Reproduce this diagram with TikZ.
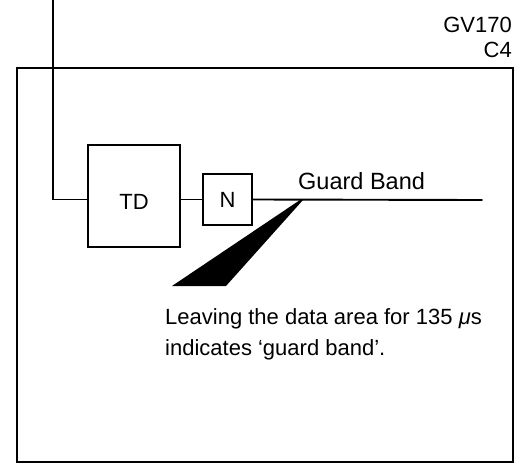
\documentclass[tikz,border=0pt]{standalone}
\usepackage{fontspec}
\setmainfont{Liberation Sans}
\usetikzlibrary{positioning}

\begin{document}
\begin{tikzpicture}[
    x=1pt, y=-1pt,
    wire/.style={line width=1.9pt, line cap=round, line join=miter},
    block/.style={draw, line width=1.9pt, inner sep=0pt, font=\fontsize{22}{30}\selectfont},
    lbl/.style={font=\fontsize{22}{31}\selectfont, inner sep=0pt},
]
\useasboundingbox (0,0) rectangle (523,464);
\def\liney{200}

% frame
\draw[wire] (17,68) rectangle (513,462);

\node[lbl, anchor=base east] (code) at (512,32) {GV170};
\node[lbl, anchor=base east] (sub) at (512,57) {C4};

\node[block, minimum width=92pt, minimum height=102pt] (td) at (134,196) {};
\node[lbl, anchor=base] (tdtext) at (td.center |- 0,209) {TD};
\node[block, minimum width=49pt, minimum height=51pt] (n) at (227.5,199.5) {N};

\coordinate (wtop) at (53,0);
\coordinate (bandend) at (482,\liney);

\draw[wire] (wtop) |- (td.west |- n.west);
\draw[wire] (td.east |- n.west) -- (n.west);
\draw[wire] (n.east) -- (bandend);

\node[lbl, anchor=base west, font=\fontsize{23.5}{31}\selectfont] (band) at (298,189) {Guard Band};

% pointer wedge
\coordinate (tip) at (300,\liney);
\fill (tip) -- ++(3,0) -- (226,286) -- (172,286) -- cycle;

\node[lbl, anchor=base west, align=left] (note) at (165,355)
    {Leaving the data area for 135 \textit{μ}s\\indicates ‘guard band’.};
\end{tikzpicture}
\end{document}
